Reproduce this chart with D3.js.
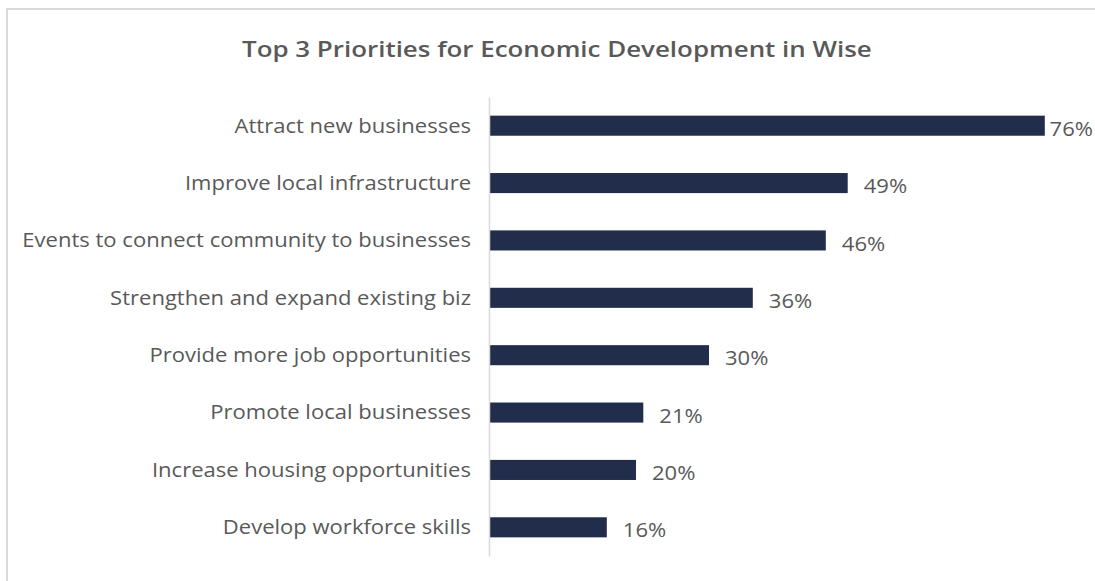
<!DOCTYPE html>
<html>
<head>
<meta charset="utf-8">
<script src="https://cdn.jsdelivr.net/npm/d3@7"></script>
<style>
  html, body { margin: 0; padding: 0; background: #fff; }
  svg { display: block; }
</style>
</head>
<body>
<svg id="chart" width="1095" height="581"></svg>
<script>
// Survey results: share of respondents naming each priority in their top 3
const categories = [
  "Attract new businesses",
  "Improve local infrastructure",
  "Events to connect community to businesses",
  "Strengthen and expand existing biz",
  "Provide more job opportunities",
  "Promote local businesses",
  "Increase housing opportunities",
  "Develop workforce skills"
];
const values = [76, 49, 46, 36, 30, 21, 20, 16];
const title = "Top 3 Priorities for Economic Development in Wise";

const W = 1095, H = 581;
const svg = d3.select("#chart");
const font = "'Open Sans', sans-serif";
const textColor = "#595959";

// chart frame (top and left edges visible)
svg.append("path")
  .attr("d", `M7,${H} L7,9 L${W},9`)
  .attr("fill", "none")
  .attr("stroke", "#d9d9d9")
  .attr("stroke-width", 2);

// title, widened horizontally to the layout's title width
const titleText = svg.append("text")
  .attr("x", 0)
  .attr("y", 0)
  .attr("font-family", font)
  .attr("font-size", 21)
  .attr("font-weight", 600)
  .attr("fill", textColor)
  .text(title);
const tScale = 630 / titleText.node().getComputedTextLength();
titleText.attr("transform", `translate(242,57) scale(${tScale.toFixed(3)},1)`);

const plot = { left: 490, top: 97, bottom: 556 };

const y = d3.scaleBand()
  .domain(categories)
  .range([plot.top, plot.bottom])
  .paddingInner(0.65)
  .paddingOuter(0.325);

const x = d3.scaleLinear()
  .domain([0, 100])
  .range([plot.left, plot.left + 730]);

const data = categories.map((c, i) => ({ c, v: values[i] }));

svg.append("g").selectAll("rect")
  .data(data)
  .join("rect")
  .attr("x", x(0))
  .attr("y", d => y(d.c))
  .attr("width", d => x(d.v) - x(0))
  .attr("height", y.bandwidth())
  .attr("fill", "#222d4b");

// category axis
const axis = svg.append("g")
  .attr("transform", `translate(${plot.left - 1},0)`)
  .call(d3.axisLeft(y).tickSize(0).tickPadding(18));
axis.select(".domain").attr("stroke", "#d9d9d9").attr("stroke-width", 1.5);
const tickTexts = axis.selectAll("text")
  .attr("font-family", font)
  .attr("font-size", 19.5)
  .attr("fill", textColor)
  .attr("dy", "0.35em");
// horizontal stretch taken from the widest label
const widest = tickTexts.filter(d => d === categories[2]).node();
const sx = 449 / widest.getComputedTextLength();
tickTexts
  .attr("x", 0)
  .attr("transform", `translate(-18,0) scale(${sx.toFixed(3)},1)`);

// value labels
const labels = svg.append("g").selectAll("text")
  .data(data)
  .join("text")
  .attr("x", 0)
  .attr("y", 0)
  .attr("dy", "0.52em")
  .attr("font-family", font)
  .attr("font-size", 19.5)
  .attr("fill", textColor)
  .text(d => d.v + "%");
labels.attr("transform", function (d) {
  const w = this.getComputedTextLength() * sx;
  const lx = Math.min(x(d.v) + 16, W - 2 - w);
  return `translate(${lx},${y(d.c) + y.bandwidth() / 2}) scale(${sx.toFixed(3)},1)`;
});
</script>
</body>
</html>
